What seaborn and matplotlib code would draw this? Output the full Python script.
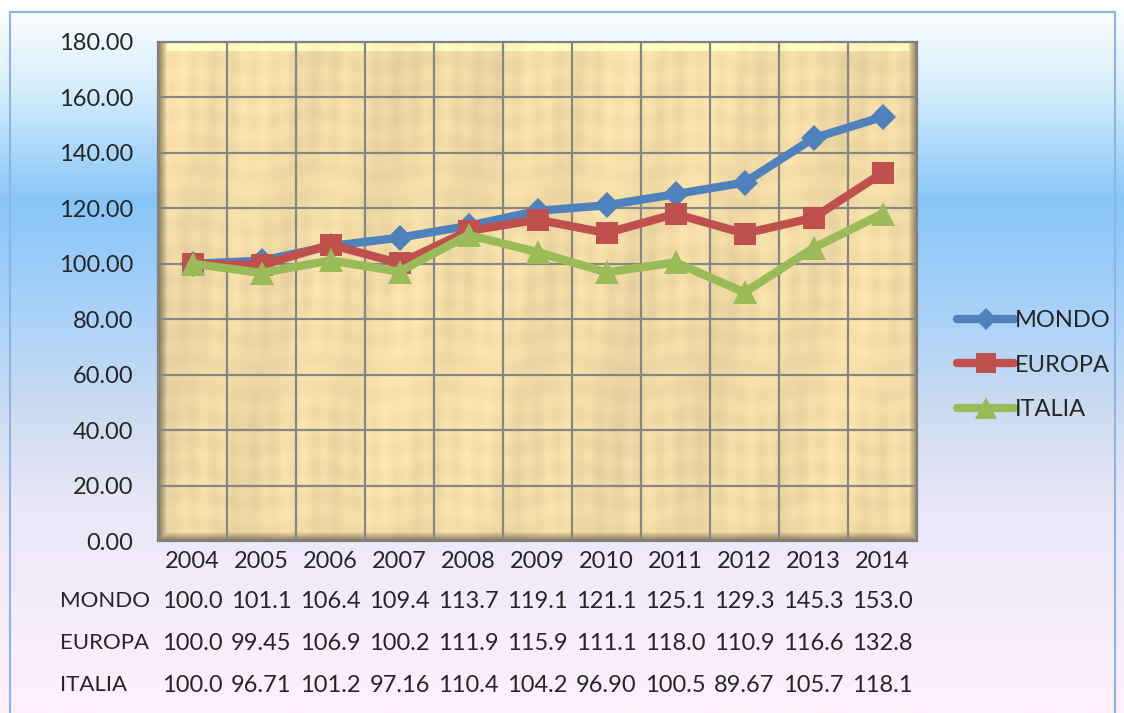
import numpy as np
import pandas as pd
import matplotlib
matplotlib.use("Agg")
import matplotlib.pyplot as plt
import seaborn as sns
from matplotlib.colors import LinearSegmentedColormap
from matplotlib.patches import Rectangle

anni = ["2004", "2005", "2006", "2007", "2008", "2009", "2010", "2011", "2012", "2013", "2014"]
serie = ["MONDO", "EUROPA", "ITALIA"]
mondo = [100.0, 101.1, 106.4, 109.4, 113.7, 119.1, 121.1, 125.1, 129.3, 145.3, 153.0]
europa = [100.0, 99.45, 106.9, 100.2, 111.9, 115.9, 111.1, 118.0, 110.9, 116.6, 132.8]
italia = [100.0, 96.71, 101.2, 97.16, 110.4, 104.2, 96.90, 100.5, 89.67, 105.7, 118.1]
etichette_tabella = [
    ["100.0", "101.1", "106.4", "109.4", "113.7", "119.1", "121.1", "125.1", "129.3", "145.3", "153.0"],
    ["100.0", "99.45", "106.9", "100.2", "111.9", "115.9", "111.1", "118.0", "110.9", "116.6", "132.8"],
    ["100.0", "96.71", "101.2", "97.16", "110.4", "104.2", "96.90", "100.5", "89.67", "105.7", "118.1"],
]

colori = {"MONDO": "#4f81bd", "EUROPA": "#c0504d", "ITALIA": "#9bbb59"}
marcatori = {"MONDO": "D", "EUROPA": "s", "ITALIA": "^"}
dim_marc = {"MONDO": 13, "EUROPA": 16, "ITALIA": 17}

df = pd.DataFrame({
    "pos": list(range(len(anni))) * 3,
    "valore": mondo + europa + italia,
    "serie": [s for s in serie for _ in anni],
})

sns.set_style("white")
plt.rcParams["font.family"] = ["Lato", "DejaVu Sans"]
fs = 17

W, H = 1124, 713
fig = plt.figure(figsize=(W / 100, H / 100), dpi=100)

# sfondo sfumato della figura
bg = fig.add_axes([0, 0, 1, 1], zorder=-10)
sfum = LinearSegmentedColormap.from_list("sf", [
    (0.0, "#ffffff"), (0.12, "#d6eefc"), (0.28, "#88c6f8"), (0.45, "#acd2f8"),
    (0.58, "#cddcf0"), (0.72, "#ebe8f8"), (1.0, "#fff0fd")])
bg.imshow(np.linspace(0, 1, 300).reshape(-1, 1), aspect="auto", cmap=sfum,
          extent=(0, 1, 0, 1), origin="upper")
bg.add_patch(Rectangle((10 / W, -0.01), 1105 / W, 1 - 12 / H + 0.01, fill=False,
                       edgecolor="#8eb4e3", linewidth=1.5))
bg.set_xlim(0, 1)
bg.set_ylim(0, 1)
bg.axis("off")

x0, x1, y0, y1 = 158, 917, 42, 541
ax = fig.add_axes([x0 / W, 1 - y1 / H, (x1 - x0) / W, (y1 - y0) / H])

# texture papiro con bordo in rilievo
pw, ph = x1 - x0, y1 - y0
xx, yy = np.meshgrid(np.arange(pw), np.arange(ph))
v = (0.02 * np.sin(xx * 0.31 + 0.4 * np.sin(yy * 0.02)) * np.sin(yy * 0.017 + 0.7)
     + 0.02 * np.sin(xx * 0.07 + yy * 0.011)
     + 0.012 * np.sin(yy * 0.23 + np.sin(xx * 0.05))
     + 0.02 * np.sin(xx * 0.013 + 1.3) * np.cos(yy * 0.009))
base = np.array([0.95, 0.86, 0.65])
img = np.clip(base[None, None, :] * (1 + v[..., None]), 0, 1)
b = 9
sh = np.ones((ph, pw))
sh = np.where(xx < b, np.minimum(sh, 0.55 + 0.45 * xx / b), sh)
sh = np.where(pw - 1 - xx < b, np.minimum(sh, 0.55 + 0.45 * (pw - 1 - xx) / b), sh)
sh = np.where(ph - 1 - yy < b, np.minimum(sh, 0.55 + 0.45 * (ph - 1 - yy) / b), sh)
img = img * sh[..., None]
top = (yy < b) & (xx >= b) & (pw - 1 - xx >= b)
img[top] = np.clip(img[top] * 1.07 + 0.05, 0, 1)
ax.imshow(img, extent=(-0.5, len(anni) - 0.5, 0, 180), aspect="auto", zorder=0)

for s in serie:
    sns.lineplot(data=df[df["serie"] == s], x="pos", y="valore", ax=ax, color=colori[s],
                 marker=marcatori[s], markersize=dim_marc[s], markeredgewidth=0,
                 linewidth=6, label=s, zorder=3, solid_joinstyle="round",
                 solid_capstyle="round")

ax.set_xlim(-0.5, len(anni) - 0.5)
ax.set_ylim(0, 180)
ax.set_yticks(np.arange(0, 181, 20))
ax.set_yticklabels([f"{t:.2f}" for t in np.arange(0, 181, 20)])
ax.set_xticks(range(len(anni)))
ax.set_xticklabels(anni)
ax.grid(False)
for t in np.arange(20, 180, 20):
    ax.axhline(t, color="#868686", linewidth=1.6, zorder=1)
for t in np.arange(0.5, len(anni) - 1, 1):
    ax.axvline(t, color="#868686", linewidth=1.6, zorder=1)
ax.tick_params(axis="both", length=0, labelsize=fs)
ax.tick_params(axis="y", pad=18)
ax.tick_params(axis="x", pad=7)
for sp in ax.spines.values():
    sp.set_color("#808080")
    sp.set_linewidth(1.6)
    sp.set_visible(True)
ax.set_xlabel("")
ax.set_ylabel("")

# tabella dati sotto il grafico
righe_y = [601, 643, 685]
for nome, valori, py in zip(serie, etichette_tabella, righe_y):
    fig.text(60 / W, 1 - py / H, nome, fontsize=16, ha="left", va="center")
    for i, t in enumerate(valori):
        ax.text(i, -(py - y1) / (y1 - y0), t, fontsize=fs, ha="center", va="center",
                transform=ax.get_xaxis_transform(), clip_on=False)

ax.legend(loc="center left", bbox_to_anchor=(936 / W, 1 - 365 / H),
          bbox_transform=fig.transFigure, frameon=False, fontsize=fs,
          handlelength=2.4, handletextpad=0.05, labelspacing=1.0, markerscale=0.9)

fig.savefig("out.png", dpi=100)
